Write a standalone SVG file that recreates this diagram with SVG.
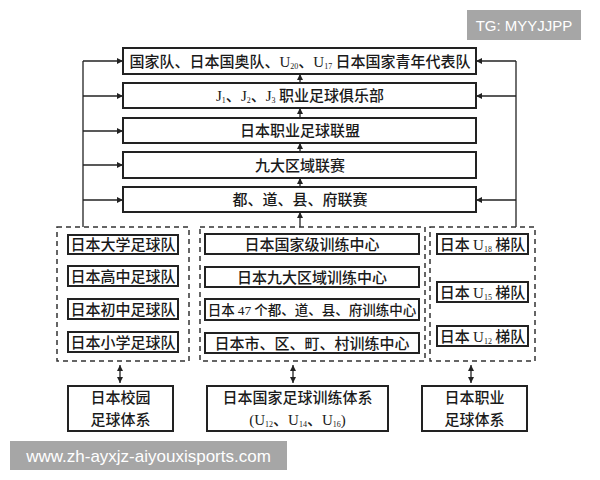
<svg xmlns="http://www.w3.org/2000/svg" width="600" height="480" viewBox="0 0 600 480">
<defs>
<marker id="ah" viewBox="0 0 6 6" refX="6" refY="3" markerWidth="6" markerHeight="6" markerUnits="userSpaceOnUse" orient="auto-start-reverse">
<path d="M0,0 L6,3 L0,6 z" fill="#222"/>
</marker>
</defs>
<style>
.bx{fill:#fff;stroke:#222;stroke-width:2}
.ib{fill:#fff;stroke:#222;stroke-width:2}
.dash{fill:none;stroke:#333;stroke-width:1.5;stroke-dasharray:5 4}
.ln{fill:none;stroke:#222;stroke-width:1.3}
.ar{fill:none;stroke:#222;stroke-width:1.3;marker-end:url(#ah)}
.ar2{fill:none;stroke:#222;stroke-width:1.3;marker-end:url(#ah);marker-start:url(#ah)}
.t{font-family:"Noto Sans CJK SC","Noto Sans",sans-serif;font-size:15px;font-weight:500;fill:#1a1a1a;text-anchor:middle}
.u{font-family:"Liberation Serif",serif;font-weight:normal}
.s{font-family:"Liberation Serif",serif;font-size:8px;font-weight:normal}
.wm{font-family:"Liberation Sans",Arial,sans-serif;fill:#fff}
</style>
<rect width="600" height="480" fill="#fff"/>

<g id="connectors">
<path class="ln" d="M83,227 V61"/>
<path class="ar" d="M83,61 H123"/>
<path class="ar" d="M83,96 H123"/>
<path class="ar" d="M83,131 H123"/>
<path class="ar" d="M83,165 H123"/>
<path class="ar" d="M83,200 H123"/>
<path class="ln" d="M516,227 V61"/>
<path class="ar" d="M516,61 H476"/>
<path class="ar" d="M516,96 H476"/>
<path class="ar" d="M516,200 H476"/>
<path class="ar" d="M300,83 V74"/>
<path class="ar" d="M300,118 V108"/>
<path class="ar" d="M300,152 V143"/>
<path class="ar" d="M300,187 V178"/>
<path class="ar" d="M300,227 V212"/>
<path class="ar2" d="M120,365 V383"/>
<path class="ar2" d="M293,365 V383"/>
<path class="ar2" d="M471,365 V383"/>
</g>

<g id="national-team">
<rect class="bx" x="123" y="48" width="353" height="26"/>
<text class="t" x="300" y="66.5">国家队、日本国奥队、<tspan class="u">U</tspan><tspan class="s" dy="2">20</tspan><tspan dy="-2">、</tspan><tspan class="u">U</tspan><tspan class="s" dy="2">17</tspan><tspan dy="-2"> 日本国家青年代表队</tspan></text>
</g>
<g id="j-league-clubs">
<rect class="bx" x="123" y="83" width="353" height="25"/>
<text class="t" x="300" y="101"><tspan class="u">J</tspan><tspan class="s" dy="2">1</tspan><tspan dy="-2">、</tspan><tspan class="u">J</tspan><tspan class="s" dy="2">2</tspan><tspan dy="-2">、</tspan><tspan class="u">J</tspan><tspan class="s" dy="2">3</tspan><tspan dy="-2"> 职业足球俱乐部</tspan></text>
</g>
<g id="j-league">
<rect class="bx" x="123" y="118" width="353" height="25"/>
<text class="t" x="300" y="136">日本职业足球联盟</text>
</g>
<g id="regional-league">
<rect class="bx" x="123" y="152" width="353" height="26"/>
<text class="t" x="300" y="170.5">九大区域联赛</text>
</g>
<g id="prefecture-league">
<rect class="bx" x="123" y="187" width="353" height="25"/>
<text class="t" x="300" y="205">都、道、县、府联赛</text>
</g>

<g id="school-group">
<rect class="dash" x="57" y="227" width="132" height="134"/>
<g id="univ"><rect class="ib" x="68" y="235" width="110" height="19"/><text class="t" x="123" y="250">日本大学足球队</text></g>
<g id="high"><rect class="ib" x="68" y="266" width="110" height="20"/><text class="t" x="123" y="281.5">日本高中足球队</text></g>
<g id="junior"><rect class="ib" x="68" y="299" width="110" height="20"/><text class="t" x="123" y="314.5">日本初中足球队</text></g>
<g id="primary"><rect class="ib" x="68" y="332" width="110" height="20"/><text class="t" x="123" y="347.5">日本小学足球队</text></g>
</g>

<g id="training-group">
<rect class="dash" x="200" y="227" width="225" height="134"/>
<g id="tc-national"><rect class="ib" x="205" y="234" width="214" height="20"/><text class="t" x="312" y="249.5">日本国家级训练中心</text></g>
<g id="tc-regional"><rect class="ib" x="205" y="267" width="214" height="20"/><text class="t" x="312" y="282.5">日本九大区域训练中心</text></g>
<g id="tc-prefecture"><rect class="ib" x="205" y="299" width="214" height="21"/><text class="t" x="312" y="314.8" style="font-size:13.5px">日本 <tspan class="u">47</tspan> 个都、道、县、府训练中心</text></g>
<g id="tc-city"><rect class="ib" x="205" y="333" width="214" height="20"/><text class="t" x="312" y="348.5">日本市、区、町、村训练中心</text></g>
</g>

<g id="youth-group">
<rect class="dash" x="430" y="227" width="105" height="134"/>
<g id="u18"><rect class="ib" x="437" y="234" width="91" height="20"/><text class="t" x="482.5" y="249.5">日本 <tspan class="u">U</tspan><tspan class="s" dy="2">18</tspan><tspan dy="-2"> 梯队</tspan></text></g>
<g id="u15"><rect class="ib" x="437" y="282" width="91" height="20"/><text class="t" x="482.5" y="297.5">日本 <tspan class="u">U</tspan><tspan class="s" dy="2">15</tspan><tspan dy="-2"> 梯队</tspan></text></g>
<g id="u12"><rect class="ib" x="437" y="326" width="91" height="20"/><text class="t" x="482.5" y="341.5">日本 <tspan class="u">U</tspan><tspan class="s" dy="2">12</tspan><tspan dy="-2"> 梯队</tspan></text></g>
</g>

<g id="school-system">
<rect class="bx" x="68" y="386" width="105" height="45"/>
<text class="t" x="120.5" y="402.5">日本校园</text>
<text class="t" x="120.5" y="424.5">足球体系</text>
</g>
<g id="national-training-system">
<rect class="bx" x="207" y="386" width="181" height="45"/>
<text class="t" x="297.5" y="402.5">日本国家足球训练体系</text>
<text class="t" x="297.5" y="424.5"><tspan class="u">(U</tspan><tspan class="s" dy="2">12</tspan><tspan dy="-2">、</tspan><tspan class="u">U</tspan><tspan class="s" dy="2">14</tspan><tspan dy="-2">、</tspan><tspan class="u">U</tspan><tspan class="s" dy="2">16</tspan><tspan class="u" dy="-2">)</tspan></text>
</g>
<g id="pro-system">
<rect class="bx" x="422" y="386" width="105" height="45"/>
<text class="t" x="474.5" y="402.5">日本职业</text>
<text class="t" x="474.5" y="424.5">足球体系</text>
</g>

<g id="watermarks">
<rect x="467" y="10" width="114" height="30" fill="#a6a6a6"/>
<text class="wm" x="524" y="30.5" text-anchor="middle" style="font-size:15px">TG: MYYJJPP</text>
<rect x="10" y="441" width="277" height="29" fill="#a6a6a6"/>
<text class="wm" x="148.5" y="461.5" text-anchor="middle" style="font-size:17px">www.zh-ayxjz-aiyouxisports.com</text>
</g>
</svg>
